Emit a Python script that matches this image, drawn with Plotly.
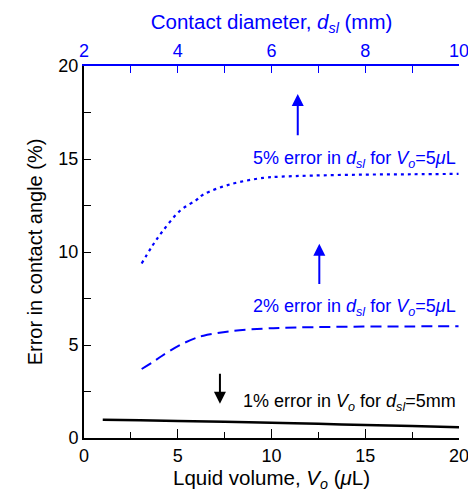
import plotly.graph_objects as go

# Black curve: error vs liquid volume (bottom axis)
vol = [1, 3, 5, 7.5, 10, 12.5, 15, 17.5, 20]
err_vol = [0.98, 0.95, 0.92, 0.87, 0.82, 0.76, 0.70, 0.64, 0.58]

# Blue curves: error vs contact diameter (top axis)
d_sl = [3.23, 3.45, 3.66, 4.05, 4.4, 4.55, 5.11, 5.83, 6.18, 6.89, 7.96, 9.0, 9.99]
err_5pct = [9.38, 10.3, 11.06, 12.22, 12.8, 13.1, 13.63, 13.99, 14.05, 14.11, 14.16, 14.18, 14.2]
err_2pct = [3.71, 4.05, 4.41, 5.0, 5.39, 5.5, 5.74, 5.88, 5.92, 5.96, 5.99, 6.0, 6.01]

blue = "#0000ff"
font = "Liberation Sans, Arial, sans-serif"
tick_size = 18
title_size = 20.5
note_size = 18

fig = go.Figure()
fig.add_trace(go.Scatter(x=vol, y=err_vol, mode="lines", line=dict(color="black", width=2.5, shape="spline"),
                         xaxis="x", yaxis="y", showlegend=False))
fig.add_trace(go.Scatter(x=d_sl, y=err_5pct, mode="lines", line=dict(color=blue, width=2.2, dash="3px,4px", shape="spline"),
                         xaxis="x2", yaxis="y", showlegend=False))
fig.add_trace(go.Scatter(x=d_sl, y=err_2pct, mode="lines", line=dict(color=blue, width=2, dash="11px,6px", shape="spline"),
                         xaxis="x2", yaxis="y", showlegend=False))

annotations = [
    dict(x=11.4, y=18.5, ax=11.4, ay=16.2, xref="x", yref="y", axref="x", ayref="y",
         showarrow=True, arrowhead=2, arrowsize=1.2, arrowwidth=2, arrowcolor=blue, text=""),
    dict(x=12.55, y=10.45, ax=12.55, ay=8.2, xref="x", yref="y", axref="x", ayref="y",
         showarrow=True, arrowhead=2, arrowsize=1.2, arrowwidth=2, arrowcolor=blue, text=""),
    dict(x=7.25, y=1.84, ax=7.25, ay=3.53, xref="x", yref="y", axref="x", ayref="y",
         showarrow=True, arrowhead=2, arrowsize=1.2, arrowwidth=2, arrowcolor="black", text=""),
    dict(x=19.95, y=14.95, xref="x", yref="y", showarrow=False, xanchor="right", yanchor="middle",
         text="5% error in <i>d</i><sub><i>sl</i></sub> for <i>V</i><sub><i>o</i></sub>=5<i>μ</i>L",
         font=dict(color=blue, size=note_size, family=font)),
    dict(x=19.95, y=7.0, xref="x", yref="y", showarrow=False, xanchor="right", yanchor="middle",
         text="2% error in <i>d</i><sub><i>sl</i></sub> for <i>V</i><sub><i>o</i></sub>=5<i>μ</i>L",
         font=dict(color=blue, size=note_size, family=font)),
    dict(x=19.95, y=1.93, xref="x", yref="y", showarrow=False, xanchor="right", yanchor="middle",
         text="1% error in <i>V</i><sub><i>o</i></sub> for <i>d</i><sub><i>sl</i></sub>=5mm",
         font=dict(color="black", size=note_size, family=font)),
]

# the page body has an 8px margin, so margins are shifted by 8px
fig.update_layout(
    width=476, height=494,
    margin=dict(l=76, r=25, t=54, b=64),
    paper_bgcolor="white", plot_bgcolor="white",
    font=dict(family=font, size=tick_size, color="black"),
    annotations=annotations,
    xaxis=dict(range=[0, 20], tickvals=[0, 5, 10, 15, 20], ticks="inside", ticklen=9, tickwidth=1.3,
               tickcolor="black", showline=True, linecolor="black", linewidth=2,
               minor=dict(tickvals=[2.5, 7.5, 12.5, 17.5], ticks="inside", ticklen=6, tickcolor="black", tickwidth=1.3),
               showgrid=False, zeroline=False, tickfont=dict(size=tick_size),
               title=dict(text="Lquid volume, <i>V</i><sub><i>o</i></sub> (<i>μ</i>L)", font=dict(size=title_size), standoff=6)),
    xaxis2=dict(range=[2, 10], overlaying="x", side="top", anchor="y",
                tickvals=[2, 4, 6, 8, 10], ticks="inside", ticklen=7, tickwidth=1.3, tickcolor=blue,
                minor=dict(tickvals=[3, 5, 7, 9], ticks="inside", ticklen=7, tickcolor=blue, tickwidth=1.3),
                showline=True, linecolor=blue, linewidth=2, showgrid=False, zeroline=False,
                tickfont=dict(size=tick_size, color=blue),
                title=dict(text="Contact diameter, <i>d</i><sub><i>sl</i></sub> (mm)", font=dict(size=title_size, color=blue), standoff=6)),
    yaxis=dict(range=[0, 20], tickvals=[0, 5, 10, 15, 20], ticks="inside", ticklen=7, tickwidth=1.3,
               tickcolor="black", showline=True, linecolor="black", linewidth=2,
               minor=dict(tickvals=[2.5, 7.5, 12.5, 17.5], ticks="inside", ticklen=7, tickcolor="black", tickwidth=1.3),
               showgrid=False, zeroline=False, tickfont=dict(size=tick_size),
               title=dict(text="Error in contact angle (%)", font=dict(size=20), standoff=10)),
    yaxis2=dict(range=[0, 20], overlaying="y", side="right", anchor="x", showline=True, linecolor="black",
                linewidth=2, showticklabels=False, ticks="", showgrid=False, zeroline=False),
)

fig.write_html("out.html")
